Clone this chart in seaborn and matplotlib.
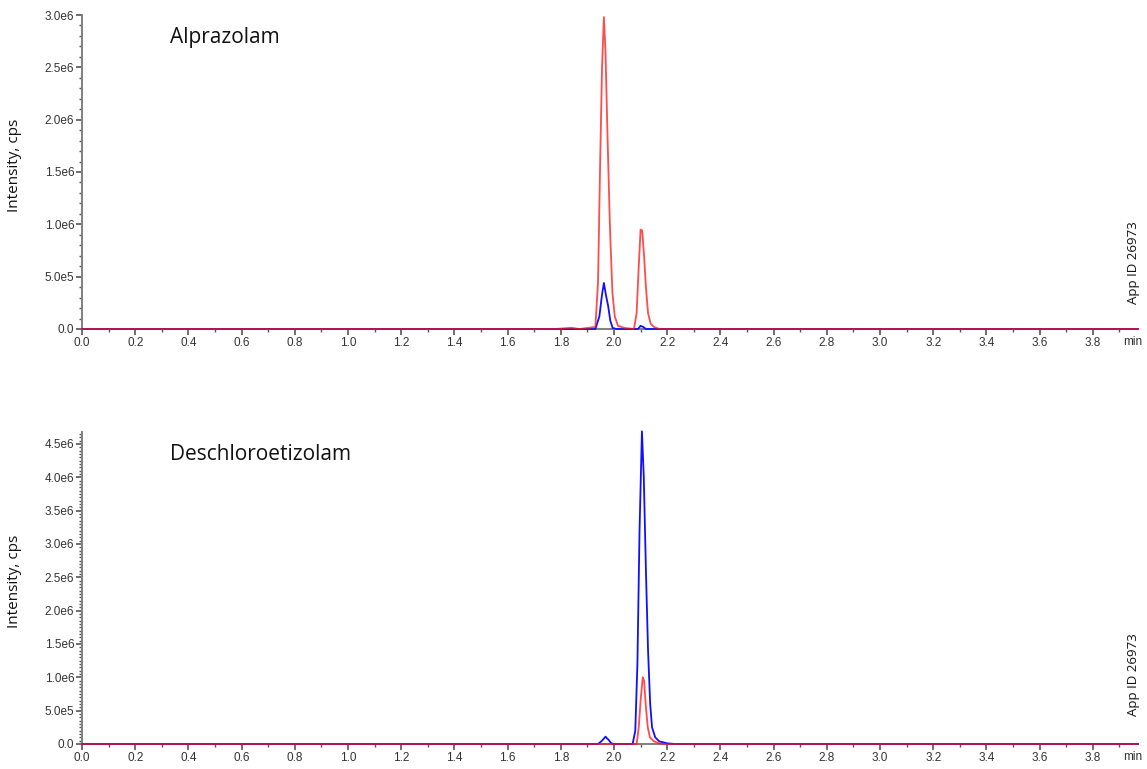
import numpy as np
import pandas as pd
import matplotlib
matplotlib.use("Agg")
import matplotlib.pyplot as plt
from matplotlib.ticker import MultipleLocator, FixedLocator, FixedFormatter
import seaborn as sns

# ---------------- data ----------------
# Alprazolam panel, time (min) and intensity (x1e6 cps)
alp_red_t = [0.00, 1.78, 1.82, 1.84, 1.87, 1.930, 1.940, 1.948, 1.955, 1.962, 1.968, 1.976,
             1.985, 1.994, 2.003, 2.015, 2.040, 2.075, 2.085, 2.093, 2.100, 2.106, 2.113,
             2.120, 2.128, 2.138, 2.150, 2.170, 3.97]
alp_red_v = [0.0, 0.0, 0.008, 0.012, 0.0, 0.02, 0.45, 1.60, 2.50, 2.98, 2.65, 1.80,
             0.95, 0.35, 0.12, 0.03, 0.01, 0.0, 0.15, 0.60, 0.95, 0.94, 0.70,
             0.40, 0.15, 0.05, 0.02, 0.0, 0.0]
alp_blue_t = [0.00, 1.930, 1.945, 1.955, 1.962, 1.970, 1.978, 1.986, 1.995, 2.010,
              2.090, 2.100, 2.110, 2.120, 3.97]
alp_blue_v = [0.0, 0.0, 0.12, 0.33, 0.44, 0.32, 0.22, 0.08, 0.01, 0.0,
              0.0, 0.03, 0.02, 0.0, 0.0]

# Deschloroetizolam panel
des_blue_t = [0.00, 1.940, 1.955, 1.968, 1.980, 1.990, 2.000, 2.070, 2.080, 2.088, 2.096,
              2.105, 2.112, 2.120, 2.128, 2.136, 2.143, 2.155, 2.170, 2.200, 2.230, 3.97]
des_blue_v = [0.0, 0.0, 0.05, 0.11, 0.06, 0.01, 0.0, 0.0, 0.20, 1.20, 3.20,
              4.69, 4.00, 2.60, 1.40, 0.60, 0.25, 0.10, 0.04, 0.01, 0.0, 0.0]
des_red_t = [0.00, 2.085, 2.093, 2.100, 2.108, 2.113, 2.120, 2.127, 2.135, 2.150, 2.170,
             2.190, 3.97]
des_red_v = [0.0, 0.0, 0.25, 0.65, 1.00, 0.95, 0.55, 0.25, 0.10, 0.04, 0.01,
             0.0, 0.0]

panel_titles = ["Alprazolam", "Deschloroetizolam"]
x_tick_vals = [round(0.2 * i, 1) for i in range(20)]
x_tick_labels = ["%.1f" % v for v in x_tick_vals]
top_y_ticks = [0, 0.5e6, 1.0e6, 1.5e6, 2.0e6, 2.5e6, 3.0e6]
top_y_labels = ["0.0", "5.0e5", "1.0e6", "1.5e6", "2.0e6", "2.5e6", "3.0e6"]
bot_y_ticks = [0, 0.5e6, 1.0e6, 1.5e6, 2.0e6, 2.5e6, 3.0e6, 3.5e6, 4.0e6, 4.5e6]
bot_y_labels = ["0.0", "5.0e5", "1.0e6", "1.5e6", "2.0e6", "2.5e6", "3.0e6",
                "3.5e6", "4.0e6", "4.5e6"]
y_label = "Intensity, cps"
x_unit = "min"
app_id = "App ID 26973"

# ---------------- figure ----------------
sns.set_style("white")
plt.rcParams["font.family"] = ["Liberation Sans", "DejaVu Sans"]

W, H = 1147, 769
fig = plt.figure(figsize=(W / 100, H / 100), dpi=100)

xmax = 3.97
ax_left = 82 / W
ax_w = (xmax * 266) / W

ax1 = fig.add_axes([ax_left, (H - 329) / H, ax_w, (329 - 15) / H])
ax2 = fig.add_axes([ax_left, (H - 744) / H, ax_w, (744 - 432) / H])

red = "#ff1010"
blue = "#1010ff"

def frame(t, v):
    return pd.DataFrame({"t": t, "v": np.array(v) * 1e6})

common = dict(lw=1.3, estimator=None, sort=False, clip_on=False, zorder=5)
sns.lineplot(data=frame(alp_blue_t, alp_blue_v), x="t", y="v", ax=ax1, color=blue,
             **common)
sns.lineplot(data=frame(alp_red_t, alp_red_v), x="t", y="v", ax=ax1, color=red,
             alpha=0.75, **common)
sns.lineplot(data=frame(des_blue_t, des_blue_v), x="t", y="v", ax=ax2, color=blue,
             **common)
sns.lineplot(data=frame(des_red_t, des_red_v), x="t", y="v", ax=ax2, color=red,
             alpha=0.75, **common)

specs = [(ax1, 3.0e6, top_y_ticks, top_y_labels, 0.1e6, panel_titles[0], 37),
         (ax2, 4.68e6, bot_y_ticks, bot_y_labels, 0.05e6, panel_titles[1], 455)]

for ax, ytop, yt, yl, yminor, title, ty in specs:
    ax.set_xlim(0, xmax)
    ax.set_ylim(0, ytop)
    ax.set_xlabel("")
    ax.set_ylabel(y_label, fontsize=11, family=["Open Sans", "DejaVu Sans"],
                  color="#111111")
    ax.yaxis.set_label_coords(-0.057, 0.52)
    ax.xaxis.set_major_locator(FixedLocator(x_tick_vals))
    ax.xaxis.set_major_formatter(FixedFormatter(x_tick_labels))
    ax.xaxis.set_minor_locator(MultipleLocator(0.1))
    ax.yaxis.set_major_locator(FixedLocator(yt))
    ax.yaxis.set_major_formatter(FixedFormatter(yl))
    ax.yaxis.set_minor_locator(MultipleLocator(yminor))
    ax.tick_params(axis="both", which="both", bottom=True, left=True)
    ax.tick_params(axis="both", which="major", labelsize=8.5, labelcolor="#333333",
                   color="#555555", length=4, width=1.2, direction="out", pad=1.5)
    ax.tick_params(axis="both", which="minor", color="#555555", length=2.0,
                   width=1.0, direction="out")
    for s in ["top", "right"]:
        ax.spines[s].set_visible(False)
    for s in ["left", "bottom"]:
        ax.spines[s].set_color("#808080")
        ax.spines[s].set_linewidth(1.4)
    # title text inside the plot
    fig.text(170 / W, (H - ty) / H, title, fontsize=15,
             family=["Open Sans", "DejaVu Sans"], color="#111111", va="center",
             ha="left")

# 'min' unit labels and App IDs
fig.text(1133 / W, (H - 342) / H, x_unit, fontsize=8.5, color="#333333",
         ha="center", va="center")
fig.text(1133 / W, (H - 757) / H, x_unit, fontsize=8.5, color="#333333",
         ha="center", va="center")
fig.text(1133 / W, (H - 263) / H, app_id, fontsize=9.5, rotation=90,
         family=["Open Sans", "DejaVu Sans"], color="#111111",
         ha="center", va="center")
fig.text(1133 / W, (H - 675) / H, app_id, fontsize=9.5, rotation=90,
         family=["Open Sans", "DejaVu Sans"], color="#111111",
         ha="center", va="center")

fig.savefig("out.png", dpi=100)
